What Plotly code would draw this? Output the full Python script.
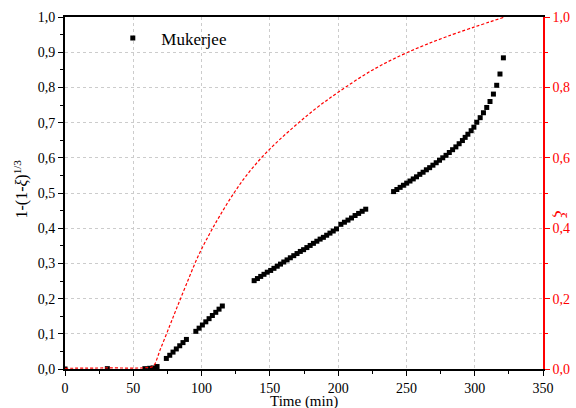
import plotly.graph_objects as go

# Mukerjee data: time (min) and 1-(1-xi)^(1/3)
time_mk = [0.0, 31.0, 58.5, 62.0, 64.5, 67.4,
           74.2, 76.7, 79.1, 81.5, 84.0, 86.4, 88.9,
           95.8, 98.2, 100.6, 103.1, 105.5, 107.9, 110.4, 112.8, 115.2,
           138.5, 140.9, 143.3, 145.7, 148.1, 150.6, 153.0, 155.4, 157.8, 160.2,
           162.6, 165.0, 167.5, 169.9, 172.3, 174.7, 177.1, 179.5, 181.9, 184.4,
           186.8, 189.2, 191.6, 194.0, 196.4, 198.8,
           202.0, 204.6, 207.2, 209.8, 212.4, 215.0, 217.6, 220.2,
           240.6, 243.0, 245.4, 247.8, 250.2, 252.6, 255.0, 257.4, 259.8, 262.2,
           264.6, 267.0, 269.4, 271.8, 274.2, 276.6, 279.0, 281.4, 283.8, 286.2,
           288.6, 291.0, 293.0, 295.0, 297.4, 299.4, 301.5, 304.0, 306.4, 308.8,
           311.2, 313.7, 316.1, 318.5, 321.0]
val_mk = [0.000, 0.001, 0.001, 0.002, 0.003, 0.007,
          0.030, 0.039, 0.048, 0.057, 0.066, 0.075, 0.084,
          0.107, 0.116, 0.125, 0.134, 0.143, 0.152, 0.161, 0.170, 0.179,
          0.251, 0.257, 0.263, 0.269, 0.275, 0.280, 0.286, 0.292, 0.298, 0.304,
          0.310, 0.316, 0.322, 0.328, 0.334, 0.339, 0.345, 0.351, 0.357, 0.363,
          0.369, 0.374, 0.380, 0.386, 0.392, 0.398,
          0.411, 0.417, 0.423, 0.429, 0.436, 0.442, 0.448, 0.454,
          0.504, 0.510, 0.516, 0.522, 0.528, 0.534, 0.540, 0.546, 0.553, 0.559,
          0.566, 0.572, 0.579, 0.586, 0.593, 0.600, 0.607, 0.615, 0.623, 0.631,
          0.640, 0.649, 0.658, 0.667, 0.677, 0.687, 0.701, 0.714, 0.728, 0.743,
          0.760, 0.781, 0.806, 0.838, 0.884]

# Conversion xi (right axis)
time_xi = [0, 30, 60, 64.5, 70, 76.6, 82, 88.8, 97.2, 105.7, 113, 122.7, 132.5,
           144.5, 156.7, 171.2, 185, 200, 225, 250, 280, 322]
val_xi = [0.002, 0.003, 0.004, 0.008, 0.058, 0.122, 0.175, 0.240, 0.318, 0.383, 0.433,
          0.494, 0.548, 0.603, 0.650, 0.700, 0.744, 0.786, 0.849, 0.898, 0.945, 1.0]

FONT = "Liberation Serif"
TICKFONT = dict(family=FONT, size=14, color="black")

fig = go.Figure()
fig.add_trace(go.Scatter(
    x=time_xi, y=val_xi, mode="lines", yaxis="y2", showlegend=False,
    line=dict(color="red", width=1.2, dash="3px,2px"), line_shape="spline"))
fig.add_trace(go.Scatter(
    x=time_mk, y=val_mk, mode="markers", name="\u00a0\u00a0Mukerjee",
    marker=dict(symbol="square", size=5, color="black")))

fig.update_layout(
    width=576, height=408,
    margin=dict(l=65, r=33, t=17, b=39),
    paper_bgcolor="white", plot_bgcolor="white",
    separators=", ",
    font=dict(family=FONT, size=14, color="black"),
    showlegend=True,
    legend=dict(x=0.1, y=0.99, xanchor="left", yanchor="top",
                bgcolor="rgba(0,0,0,0)", font=dict(family=FONT, size=17)),
    xaxis=dict(
        range=[0, 350], tickvals=[0, 50, 100, 150, 200, 250, 300, 350],
        tickfont=TICKFONT, automargin=False,
        showline=True, linecolor="black", linewidth=1.5, mirror=True,
        ticks="outside", ticklen=5, tickcolor="black",
        minor=dict(dtick=25, ticks="outside", ticklen=3, tickcolor="black", showgrid=False),
        showgrid=True, gridcolor="#cccccc", griddash="dot", gridwidth=1,
        zeroline=False,
    ),
    yaxis=dict(
        range=[0, 1], dtick=0.1, tickformat=".1f",
        tickfont=TICKFONT, automargin=False,
        showline=True, linecolor="black", linewidth=2,
        ticks="outside", ticklen=5, tickcolor="black",
        minor=dict(dtick=0.05, ticks="outside", ticklen=3, tickcolor="black", showgrid=False),
        showgrid=True, gridcolor="#cccccc", griddash="dot", gridwidth=1,
        zeroline=False,
    ),
    yaxis2=dict(
        range=[0, 1], dtick=0.2, tickformat=".1f", overlaying="y", side="right",
        automargin=False,
        showline=True, linecolor="red", linewidth=1.5,
        ticks="outside", ticklen=5, tickcolor="red",
        minor=dict(dtick=0.1, ticks="outside", ticklen=3, tickcolor="red", showgrid=False),
        showgrid=False, zeroline=False,
        tickfont=dict(color="red", family=FONT, size=14),
    ),
    annotations=[
        dict(text="1-(1-<i>ξ</i>)<sup>1/3</sup>", xref="paper", yref="paper",
             x=-0.092, y=0.51, xanchor="center", yanchor="middle", showarrow=False,
             textangle=-90, font=dict(family=FONT, size=16, color="black")),
        dict(text="<i>ξ</i>", xref="paper", yref="paper", x=1.037, y=0.44,
             xanchor="center", yanchor="middle", showarrow=False, textangle=90,
             font=dict(family=FONT, size=17, color="red")),
        dict(text="Time (min)", xref="paper", yref="paper", x=0.5, y=-0.092,
             xanchor="center", yanchor="middle", showarrow=False,
             font=dict(family=FONT, size=15, color="black")),
    ],
)

fig.write_html("out.html")
